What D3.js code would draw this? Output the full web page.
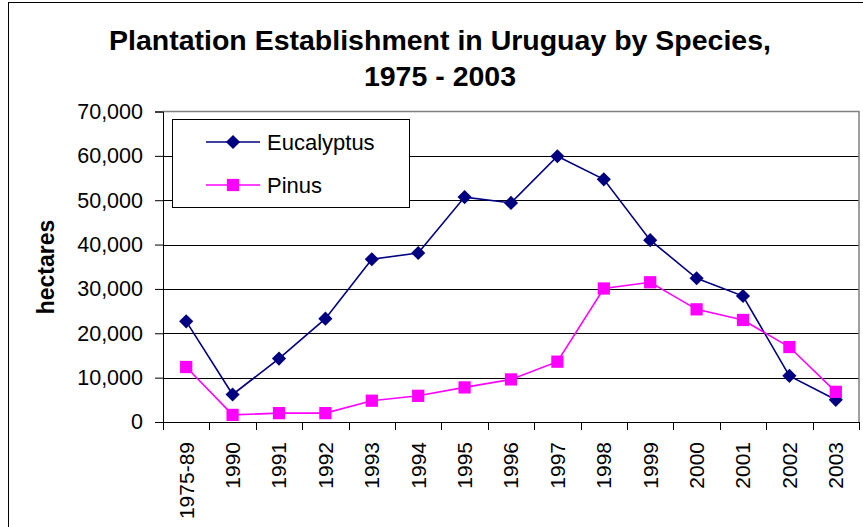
<!DOCTYPE html>
<html>
<head>
<meta charset="utf-8">
<script src="https://cdn.jsdelivr.net/npm/d3@7"></script>
<style>
  body { margin: 0; background: #fff; }
  svg { display: block; font-family: "Liberation Sans", Arial, sans-serif; }
</style>
</head>
<body>
<div id="chart"></div>
<script>
const categories = ['1975-89', '1990', '1991', '1992', '1993', '1994', '1995', '1996', '1997', '1998', '1999', '2000', '2001', '2002', '2003']
const eucalyptus = [22700, 6200, 14300, 23300, 36700, 38100, 50700, 49400, 59900, 54700, 41000, 32400, 28400, 10400, 5000]
const pinus = [12400, 1600, 2000, 2000, 4800, 5900, 7800, 9600, 13600, 30100, 31500, 25400, 23000, 16900, 6800]
const yTicks = [0, 10000, 20000, 30000, 40000, 50000, 60000, 70000]

const width = 863
const height = 527
const plot = { left: 163, right: 859, top: 111.5, bottom: 422 }

const svg = d3
  .select('#chart')
  .append('svg')
  .attr('width', width)
  .attr('height', height)

// outer chart frame
svg
  .append('rect')
  .attr('x', 8.5)
  .attr('y', 2.5)
  .attr('width', 870)
  .attr('height', 560)
  .attr('fill', '#fff')
  .attr('stroke', '#000')
  .attr('stroke-width', 1)

const x = d3.scaleBand().domain(categories).range([plot.left, plot.right])
const y = d3.scaleLinear().domain([0, 70000]).range([plot.bottom, plot.top])

// gridlines
svg
  .append('g')
  .selectAll('line')
  .data(yTicks.filter(d => d > 0 && d < 70000))
  .join('line')
  .attr('x1', plot.left)
  .attr('x2', plot.right)
  .attr('y1', d => Math.round(y(d)) + 0.5)
  .attr('y2', d => Math.round(y(d)) + 0.5)
  .attr('stroke', '#000')

// plot frame (grey top/right)
svg
  .append('path')
  .attr('d', `M${plot.left},${plot.top}H${plot.right}V${plot.bottom}`)
  .attr('fill', 'none')
  .attr('stroke', '#808080')
  .attr('stroke-width', 1.5)

// y axis
const yAxis = svg
  .append('g')
  .attr('transform', `translate(${plot.left},0)`)
  .call(
    d3
      .axisLeft(y)
      .tickValues(yTicks)
      .tickSize(8)
      .tickPadding(12)
      .tickFormat(d3.format(','))
  )
yAxis.select('.domain').attr('stroke', '#000')
yAxis.selectAll('text').attr('font-size', 21.5).attr('fill', '#000').attr('font-family', '"Liberation Sans", Arial, sans-serif')

// x axis
const xAxis = svg
  .append('g')
  .attr('transform', `translate(0,${plot.bottom})`)
  .call(d3.axisBottom(x).tickSize(0).tickSizeOuter(0))
xAxis.select('.domain').attr('stroke', '#000')
xAxis
  .selectAll('.tick text')
  .attr('font-size', 21)
  .attr('fill', '#000')
  .attr('font-family', '"Liberation Sans", Arial, sans-serif')
  .attr('text-anchor', 'end')
  .attr('transform', 'rotate(-90)')
  .attr('x', -20)
  .attr('y', 0)
  .attr('dy', '0.35em')

// x ticks at band boundaries
svg
  .append('g')
  .selectAll('line')
  .data(categories.concat(['end']))
  .join('line')
  .attr('x1', (d, i) => Math.round(plot.left + i * x.step()) + 0.5)
  .attr('x2', (d, i) => Math.round(plot.left + i * x.step()) + 0.5)
  .attr('y1', plot.bottom)
  .attr('y2', plot.bottom + 8)
  .attr('stroke', '#000')

// y axis title
svg
  .append('text')
  .attr('transform', `translate(54,267) rotate(-90)`)
  .attr('text-anchor', 'middle')
  .attr('font-size', 23)
  .attr('font-weight', 'bold')
  .text('hectares')

// title
const title = svg.append('text').attr('text-anchor', 'middle').attr('font-size', 28.5).attr('font-weight', 'bold')
title.append('tspan').attr('x', 440).attr('y', 50).text('Plantation Establishment in Uruguay by Species,')
title.append('tspan').attr('x', 440).attr('y', 86).text('1975 - 2003')

const series = [
  { name: 'Eucalyptus', values: eucalyptus, color: '#000080', symbol: d3.symbolSquare, size: 100, rotate: 45 },
  { name: 'Pinus', values: pinus, color: '#FF00FF', symbol: d3.symbolSquare, size: 150, rotate: 0 }
]

const line = d3
  .line()
  .x((d, i) => x(categories[i]) + x.bandwidth() / 2)
  .y(d => y(d))

series.forEach(s => {
  svg
    .append('path')
    .datum(s.values)
    .attr('fill', 'none')
    .attr('stroke', s.color)
    .attr('stroke-width', 1.6)
    .attr('d', line)
})

series.forEach(s => {
  svg
    .append('g')
    .selectAll('path')
    .data(s.values)
    .join('path')
    .attr('transform', (d, i) => `translate(${x(categories[i]) + x.bandwidth() / 2},${y(d)}) rotate(${s.rotate})`)
    .attr('d', d3.symbol(s.symbol, s.size))
    .attr('fill', s.color)
})

// legend
const legend = svg.append('g')
legend
  .append('rect')
  .attr('x', 172.5)
  .attr('y', 119.5)
  .attr('width', 237)
  .attr('height', 88)
  .attr('fill', '#fff')
  .attr('stroke', '#000')

series.forEach((s, i) => {
  const ly = 142 + i * 43
  legend
    .append('line')
    .attr('x1', 206)
    .attr('x2', 260)
    .attr('y1', ly)
    .attr('y2', ly)
    .attr('stroke', s.color)
    .attr('stroke-width', 1.6)
  legend
    .append('path')
    .attr('transform', `translate(233,${ly}) rotate(${s.rotate})`)
    .attr('d', d3.symbol(s.symbol, s.size))
    .attr('fill', s.color)
  legend
    .append('text')
    .attr('x', 267)
    .attr('y', ly)
    .attr('dy', '0.35em')
    .attr('font-size', 22)
    .text(s.name)
})
</script>
</body>
</html>
